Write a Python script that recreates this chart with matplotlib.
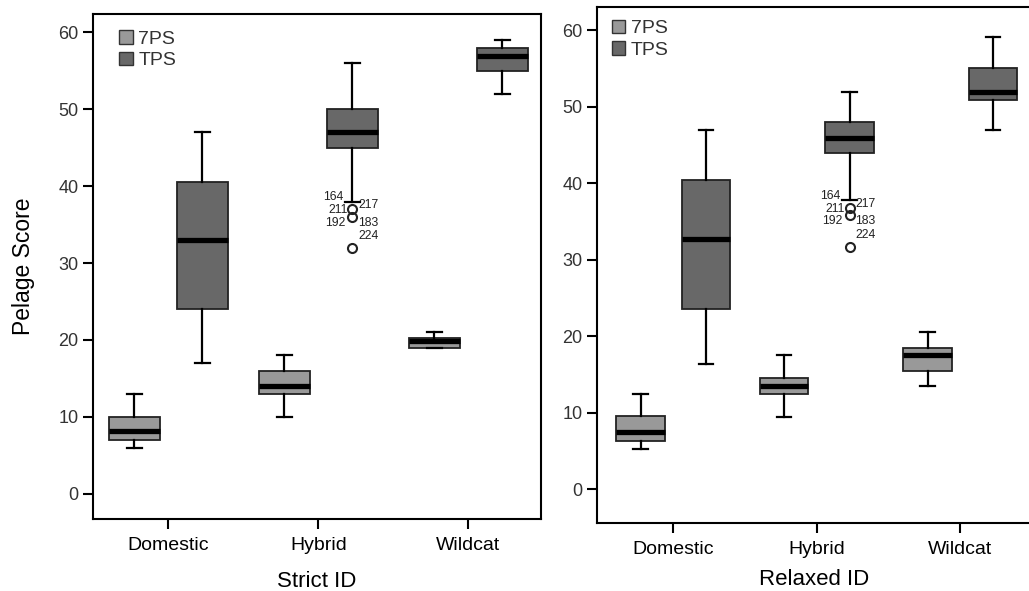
import matplotlib
matplotlib.use("Agg")
import matplotlib.pyplot as plt
from matplotlib.patches import Patch

plt.rcParams['font.family'] = ['Liberation Sans', 'DejaVu Sans']

# categories / series
groups = ["Domestic", "Hybrid", "Wildcat"]
series = ["7PS", "TPS"]

# box stats per panel: [whislo, q1, med, q3, whishi] per group
strict_7ps = [[6, 7, 8.1, 10, 13], [10, 13, 14, 16, 18], [19, 19, 19.8, 20.3, 21]]
strict_tps = [[17, 24, 33, 40.5, 47], [38, 45, 47, 50, 56], [52, 55, 57, 58, 59]]
relaxed_7ps = [[5.3, 6.3, 7.4, 9.5, 12.5], [9.4, 12.4, 13.5, 14.5, 17.6], [13.5, 15.5, 17.6, 18.5, 20.5]]
relaxed_tps = [[16.4, 23.5, 32.7, 40.4, 47], [37.8, 43.9, 45.9, 48, 52], [47, 50.9, 52, 55.1, 59.1]]

# outliers of Hybrid TPS (case ids and values)
strict_out_vals = [37, 37, 37, 36, 36, 32]
relaxed_out_vals = [36.8, 36.8, 36.8, 35.9, 35.9, 31.7]
out_ids = ["164", "217", "211", "192", "183", "224"]
out_unique_strict = [37, 36, 32]
out_unique_relaxed = [36.8, 35.9, 31.7]

# label offsets in pixels (dx, dy, ha)
out_offsets = [(-9, 12, 'right'), (6, 4, 'left'), (-5, -1, 'right'),
               (-7, -6, 'right'), (6, -6, 'left'), (6, 12, 'left')]

c7 = "#999999"
ct = "#686868"
OFF = 0.228
W = 0.34

fig = plt.figure(figsize=(10.29, 5.91), dpi=100)
W_PX, H_PX = 1029, 591


def ax_at(l, t, r, b):
    return fig.add_axes([l / W_PX, 1 - b / H_PX, (r - l) / W_PX, (b - t) / H_PX])


def stats(vals, fl=None):
    lo, q1, med, q3, hi = vals
    return dict(whislo=lo, q1=q1, med=med, q3=q3, whishi=hi, fliers=fl or [])


def panel(ax, s7, st, out_u, out_v, title, ylim, xlim, xpad, leg_anchor):
    b1 = [stats(v) for v in s7]
    b2 = [stats(v, out_u if i == 1 else None) for i, v in enumerate(st)]
    common = dict(widths=W, patch_artist=True, capwidths=0.1,
                  whiskerprops=dict(color='black', lw=1.6),
                  capprops=dict(color='black', lw=1.6),
                  medianprops=dict(color='black', lw=3.8, solid_capstyle='butt'),
                  flierprops=dict(marker='o', mfc='none', mec='#222222', ms=6.5, mew=1.5))
    ax.bxp(b1, positions=[i - OFF for i in range(3)],
           boxprops=dict(facecolor=c7, edgecolor='#222222', lw=1.3), **common)
    ax.bxp(b2, positions=[i + OFF for i in range(3)],
           boxprops=dict(facecolor=ct, edgecolor='#222222', lw=1.3), **common)
    for lab, v, (dx, dy, ha) in zip(out_ids, out_v, out_offsets):
        ax.annotate(lab, (1 + OFF, v), xytext=(dx * 0.72, dy * 0.72),
                    textcoords='offset points', ha=ha, va='center',
                    fontsize=8.8, color='#222222')
    ax.set_xlim(*xlim)
    ax.set_ylim(*ylim)
    ax.set_xticks(range(3))
    ax.set_xticklabels(groups, fontsize=14, color='black')
    ax.set_yticks(range(0, 61, 10))
    ax.tick_params(axis='y', labelsize=13, labelcolor='#333333', length=7, width=1.5)
    ax.tick_params(axis='x', length=7, width=1.5, pad=6)
    ax.set_xlabel(title, fontsize=16, labelpad=xpad)
    for s in ax.spines.values():
        s.set_linewidth(1.5)
    handles = [Patch(facecolor=c7, edgecolor='#333333', lw=1),
               Patch(facecolor=ct, edgecolor='#333333', lw=1)]
    ax.legend(handles, series, loc='upper left', bbox_to_anchor=leg_anchor,
              frameon=False, fontsize=14, handlelength=0.68, handleheight=0.68,
              handletextpad=0.3, labelspacing=0.22, borderpad=0, borderaxespad=0,
              labelcolor='#333333')


ax1 = ax_at(93, 14, 541, 519)
panel(ax1, strict_7ps, strict_tps, out_unique_strict, strict_out_vals,
      "Strict ID", (-3.3, 62.4), (-0.502, 2.485), 12, (0.059, 0.968))
ax1.set_ylabel("Pelage Score", fontsize=16.5, labelpad=17)

ax2 = ax_at(597, 6.7, 1032, 522.7)
panel(ax2, relaxed_7ps, relaxed_tps, out_unique_relaxed, relaxed_out_vals,
      "Relaxed ID", (-4.4, 63.1), (-0.532, 2.5), 8, (0.034, 0.975))

fig.savefig("out.png", dpi=100)
